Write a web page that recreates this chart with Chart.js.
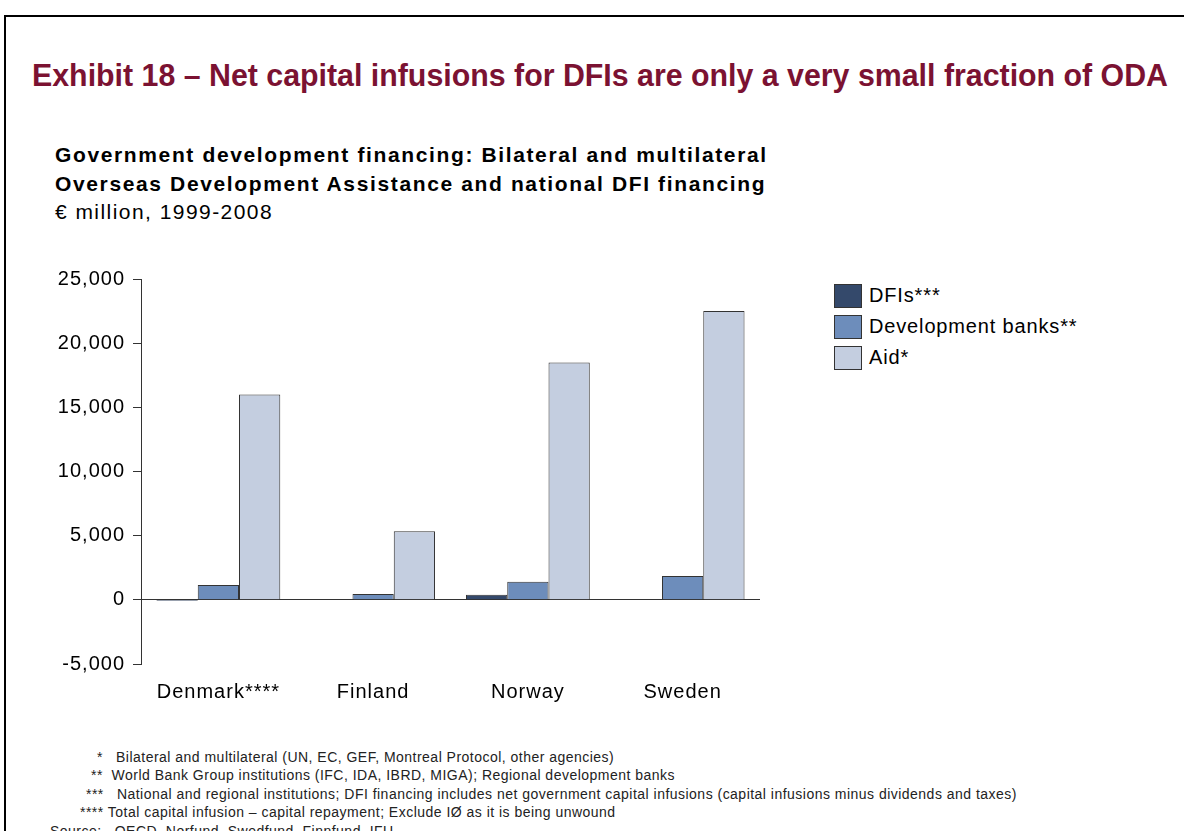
<!DOCTYPE html>
<html>
<head>
<meta charset="utf-8">
<script src="https://cdn.jsdelivr.net/npm/chart.js@4.4.0/dist/chart.umd.min.js"></script>
<style>
  body { margin: 0; background: #fff; width: 1184px; height: 831px; overflow: hidden; position: relative; font-family: "Liberation Sans", Arial, sans-serif; }
  #frame { position: absolute; left: 4px; top: 15px; width: 1300px; height: 900px; border-top: 2px solid #000; border-left: 2px solid #000; }
  #title { position: absolute; left: 32px; top: 58px; font-weight: bold; font-size: 31px; color: #7b1232; white-space: nowrap; transform-origin: left top; }
  #sub { position: absolute; left: 55px; top: 141px; font-size: 21px; line-height: 28.5px; color: #000; letter-spacing: 1.63px; white-space: nowrap; }
  #sub .nrm { letter-spacing: 1.45px; }
  #wrap { position: absolute; left: 40px; top: 265px; width: 720px; height: 445px; }
  #legend { position: absolute; left: 834px; top: 284px; font-size: 20px; color: #000; letter-spacing: 0.85px; }
  .li { height: 31px; display: flex; align-items: flex-start; }
  .sw { width: 26px; height: 22px; border: 1px solid #333; margin-right: 7px; }
  .lt { line-height: 24px; margin-top: -1px; white-space: nowrap; }
  #notes { position: absolute; left: 0; top: 748px; font-size: 14px; line-height: 18.4px; color: #222; letter-spacing: 0.48px; }
  #notes div { position: relative; white-space: pre; }
</style>
</head>
<body>
<div id="frame"></div>
<div id="title">Exhibit 18 – Net capital infusions for DFIs are only a very small fraction of ODA</div>
<div id="sub"><b>Government development financing: Bilateral and multilateral<br>Overseas Development Assistance and national DFI financing</b><br><span class="nrm">€ million, 1999-2008</span></div>
<div id="wrap"><canvas id="myChart"></canvas></div>
<div id="legend"></div>
<div id="notes"><div style="left:97px">*   Bilateral and multilateral (UN, EC, GEF, Montreal Protocol, other agencies)</div><div style="left:91px">**  World Bank Group institutions (IFC, IDA, IBRD, MIGA); Regional development banks</div><div style="left:86px">***   National and regional institutions; DFI financing includes net government capital infusions (capital infusions minus dividends and taxes)</div><div style="left:80px">**** Total capital infusion – capital repayment; Exclude IØ as it is being unwound</div><div style="left:50px">Source:   OECD, Norfund, Swedfund, Finnfund, IFU</div></div>
<script>
const countries = ["Denmark****", "Finland", "Norway", "Sweden"];
const seriesNames = ["DFIs***", "Development banks**", "Aid*"];
const dfis = [-100, 0, 400, 0];
const devBanks = [1150, 450, 1400, 1850];
const aid = [16000, 5350, 18500, 22500];
const yTicks = [-5000, 0, 5000, 10000, 15000, 20000, 25000];
const colors = ["#34496b", "#6d8dbb", "#c4cee0"];

// stretch title to the reference width
const titleEle = document.getElementById("title");
titleEle.style.transform = `scaleX(${1136 / titleEle.getBoundingClientRect().width})`;

const values = [dfis, devBanks, aid];
const datasets = seriesNames.map((name, i) => ({
    label: name,
    data: values[i],
    backgroundColor: colors[i],
    borderColor: "#333",
    borderWidth: 1,
    categoryPercentage: 0.8,
    barPercentage: 1.0
}));

const legendEle = document.getElementById("legend");
seriesNames.forEach((name, i) => {
    legendEle.innerHTML += `<div class="li"><div class="sw" style="background:${colors[i]}"></div><div class="lt">${name}</div></div>`;
});

const spacing = {
    id: "spacing",
    beforeDraw: (chart) => { chart.ctx.letterSpacing = "1px"; }
};

const ctx = document.getElementById("myChart");
new Chart(ctx, {
    type: "bar",
    data: { labels: countries, datasets: datasets },
    plugins: [spacing],
    options: {
        responsive: true,
        maintainAspectRatio: false,
        animation: false,
        layout: { padding: { top: 14, right: 0, bottom: 0, left: 0 } },
        plugins: { legend: { display: false }, tooltip: { enabled: false } },
        scales: {
            x: {
                grid: { display: false, drawTicks: false },
                border: { display: false },
                ticks: { color: "#000", font: { family: "Liberation Sans", size: 20 }, padding: 16 },
                afterFit: (s) => { s.height = 46; }
            },
            y: {
                min: yTicks[0],
                max: yTicks[yTicks.length - 1],
                afterBuildTicks: (s) => { s.ticks = yTicks.map(v => ({ value: v })); },
                grid: {
                    drawOnChartArea: true,
                    color: (c) => (c.tick && c.tick.value === 0 ? "#333" : "rgba(0,0,0,0)"),
                    tickColor: "#333",
                    tickLength: 8
                },
                border: { display: true, color: "#333" },
                ticks: {
                    color: "#000",
                    font: { family: "Liberation Sans", size: 20 },
                    padding: 8,
                    callback: (v) => v.toLocaleString("en-US")
                },
                afterFit: (s) => { s.width = 101; s.paddingTop = 0; s.paddingBottom = 0; }
            }
        }
    }
});
</script>
</body>
</html>
